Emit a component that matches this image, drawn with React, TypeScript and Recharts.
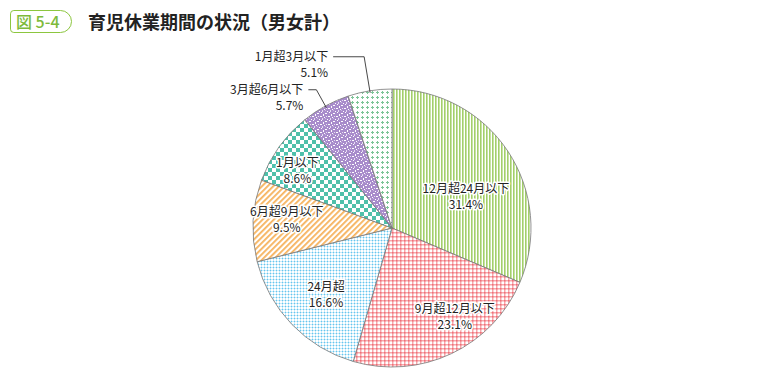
import React from 'react';
import { PieChart, Pie, Cell } from 'recharts';

const categories = ['12月超24月以下', '9月超12月以下', '24月超', '6月超9月以下', '1月以下', '3月超6月以下', '1月超3月以下'];
const shares = [31.4, 23.1, 16.6, 9.5, 8.6, 5.7, 5.1];

const data = categories.map((name, i) => ({ name, value: shares[i] }));

const FONT = '"Noto Sans CJK JP", "Noto Sans", sans-serif';
const fills = ['url(#pGreen)', 'url(#pPink)', 'url(#pBlue)', 'url(#pOrange)', 'url(#pTeal)', 'url(#pPurple)', 'url(#pMint)'];

// label placement per slice: inside ones use radius factor + angle tweak, outside ones use a leader line
const labelLayout = [
  { r: 0.58, da: -10 },
  { r: 0.78, da: 10 },
  { r: 0.67, da: 1 },
  { r: 0.76, da: -2 },
  { r: 0.8, da: 4 },
  { out: true, ex: -10, ey: -18, len: 8 },
  { out: true, ex: -6, ey: -36, len: 31 },
];

const RAD = Math.PI / 180;

const renderLabel = (props: any) => {
  const { cx, cy, midAngle, outerRadius, index, name, value } = props;
  const lay: any = labelLayout[index];
  const textStyle = { fontFamily: FONT, fontSize: 12, fill: '#222' };
  if (lay.out) {
    const px = cx + (outerRadius - 2) * Math.cos(-midAngle * RAD);
    const py = cy + (outerRadius - 2) * Math.sin(-midAngle * RAD);
    const ex = px + lay.ex;
    const ey = py + lay.ey;
    const tx = ex - lay.len;
    return (
      <g>
        <polyline points={`${px},${py} ${ex},${ey} ${tx},${ey}`} fill="none" stroke="#333" strokeWidth={0.9} />
        <text x={tx - 5} y={ey + 4} textAnchor="end" style={textStyle}>{name}</text>
        <text x={tx - 5} y={ey + 20} textAnchor="end" style={textStyle}>{value.toFixed(1)}%</text>
      </g>
    );
  }
  const a = (midAngle + lay.da) * RAD;
  const x = cx + outerRadius * lay.r * Math.cos(-a);
  const y = cy + outerRadius * lay.r * Math.sin(-a);
  const halo = { stroke: '#fff', strokeWidth: 3, paintOrder: 'stroke' as any, strokeLinejoin: 'round' as any };
  return (
    <g>
      <text x={x} y={y - 3} textAnchor="middle" style={{ ...textStyle, ...halo }}>{name}</text>
      <text x={x} y={y + 13} textAnchor="middle" style={{ ...textStyle, ...halo }}>{value.toFixed(1)}%</text>
    </g>
  );
};

const App = () => {
  return (
    <div style={{ position: 'absolute', left: 0, top: 0, width: 760, height: 380, background: '#fff', fontFamily: FONT }}>
      <div style={{ position: 'absolute', left: 10, top: 10, width: 62, height: 23, boxSizing: 'border-box', border: '1.5px solid #8cc63f', borderRadius: '4px 12px 12px 4px', color: '#7dba3a', fontSize: 16, fontWeight: 500, lineHeight: '20px', paddingLeft: 5 }}>
        図 5-4
      </div>
      <div style={{ position: 'absolute', left: 88, top: 8, fontSize: 18, fontWeight: 700, color: '#222', lineHeight: '26px' }}>
        育児休業期間の状況（男女計）
      </div>
      <PieChart width={760} height={380} style={{ position: 'absolute', left: 0, top: 0 }}>
        <defs>
          <pattern id="pGreen" width="3" height="3" patternUnits="userSpaceOnUse">
            <rect width="3" height="3" fill="#fff" />
            <rect width="1.6" height="3" fill="#a3cf6a" />
          </pattern>
          <pattern id="pPink" width="4" height="4" patternUnits="userSpaceOnUse">
            <rect width="4" height="4" fill="#f7a7ab" />
            <rect x="1.5" y="1.5" width="2.5" height="2.5" fill="#fff" />
            <rect width="1.5" height="1.5" fill="#ef6f78" />
          </pattern>
          <pattern id="pBlue" width="3" height="3" patternUnits="userSpaceOnUse">
            <rect width="3" height="3" fill="#c8eaf9" />
            <rect x="1" y="1" width="2" height="2" fill="#fff" />
            <rect width="1" height="1" fill="#66c6ee" />
          </pattern>
          <pattern id="pOrange" width="4" height="4" patternUnits="userSpaceOnUse" patternTransform="rotate(45)">
            <rect width="4" height="4" fill="#fff" />
            <rect width="1.8" height="4" fill="#f6b25c" />
          </pattern>
          <pattern id="pTeal" width="8" height="8" patternUnits="userSpaceOnUse">
            <rect width="8" height="8" fill="#4fc0aa" />
            <rect width="4" height="4" fill="#fff" />
            <rect x="4" y="4" width="4" height="4" fill="#fff" />
          </pattern>
          <pattern id="pPurple" width="8" height="8" patternUnits="userSpaceOnUse">
            <rect width="8" height="8" fill="#a88ccb" />
            <rect x="1" y="0" width="1" height="1" fill="#fff" />
            <rect x="5" y="1" width="2" height="1" fill="#fff" />
            <rect x="3" y="2" width="1" height="2" fill="#fff" />
            <rect x="0" y="4" width="2" height="1" fill="#fff" />
            <rect x="6" y="4" width="1" height="1" fill="#e6dcf2" />
            <rect x="4" y="5" width="1" height="1" fill="#fff" />
            <rect x="2" y="6" width="1" height="2" fill="#e6dcf2" />
            <rect x="7" y="7" width="1" height="1" fill="#fff" />
            <rect x="5" y="6" width="1" height="1" fill="#c9b8e0" />
          </pattern>
          <pattern id="pMint" width="5" height="5" patternUnits="userSpaceOnUse">
            <rect width="5" height="5" fill="#fff" />
            <rect x="1" y="2" width="3" height="1" fill="#7cc497" />
            <rect x="2" y="1" width="1" height="3" fill="#7cc497" />
          </pattern>
        </defs>
        <Pie
          data={data}
          dataKey="value"
          nameKey="name"
          cx={387}
          cy={223}
          outerRadius={139}
          startAngle={90}
          endAngle={-270}
          stroke="#777"
          strokeWidth={0.8}
          label={renderLabel}
          labelLine={false}
          isAnimationActive={false}
        >
          {data.map((d, i) => (
            <Cell key={d.name} fill={fills[i]} />
          ))}
        </Pie>
      </PieChart>
    </div>
  );
};

export default App;
